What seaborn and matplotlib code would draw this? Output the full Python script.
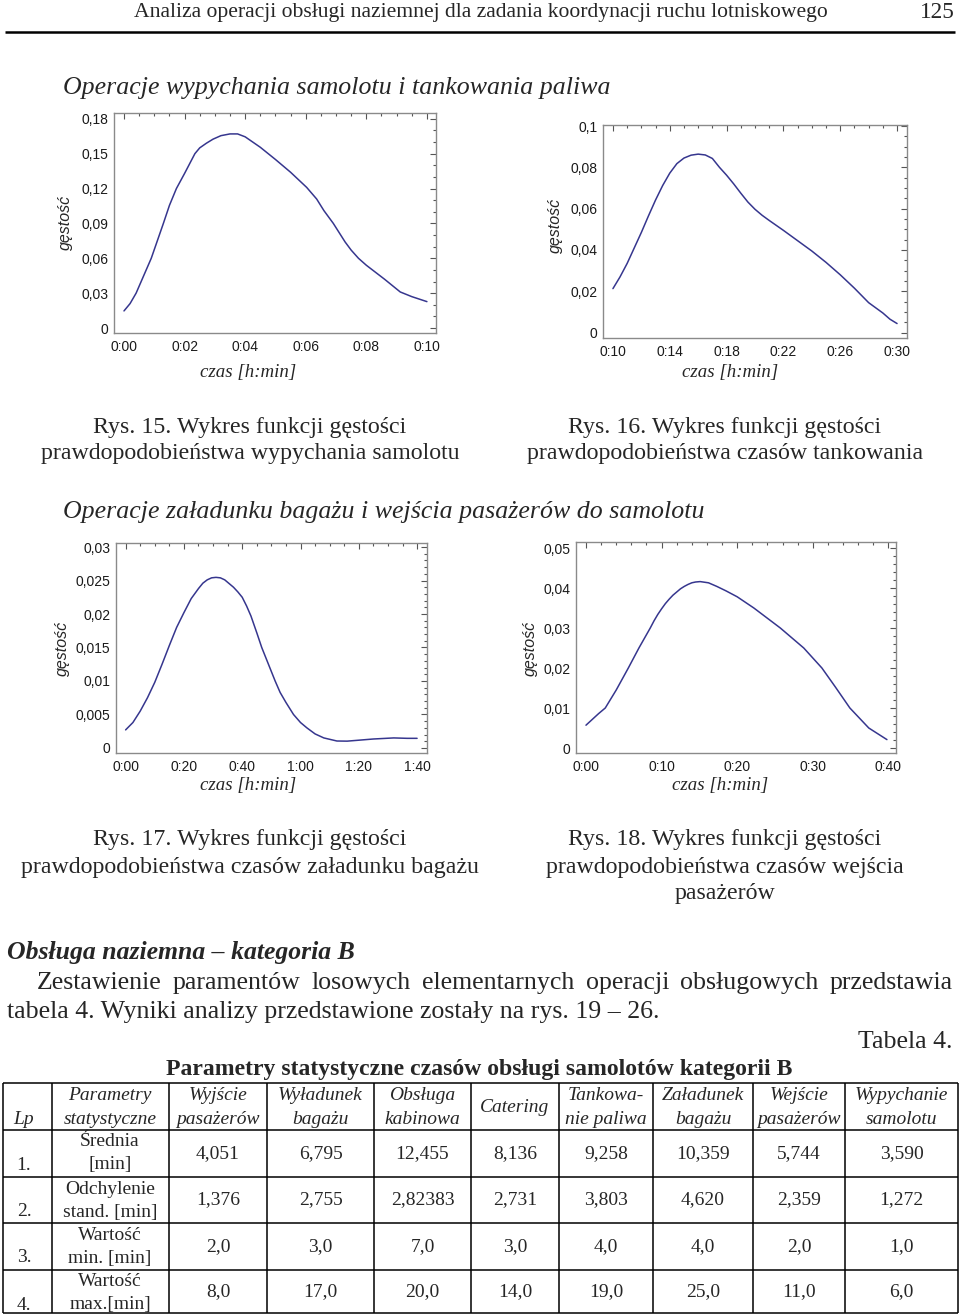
import numpy as np
import pandas as pd
import matplotlib
matplotlib.use("Agg")
import matplotlib.pyplot as plt
from matplotlib.ticker import FixedLocator, MultipleLocator
import seaborn as sns

# Rys. 15 - wypychanie samolotu (czas w minutach, gęstość)
push_t = [0.0, 0.2, 0.4, 0.65, 0.9, 1.1, 1.3, 1.5, 1.73, 2.0, 2.34, 2.5, 2.72, 2.94, 3.2, 3.5,
          3.75, 4.0, 4.25, 4.5, 5.0, 5.5, 6.03, 6.36, 6.6, 6.91, 7.3, 7.5, 7.74, 8.0, 8.2, 8.6,
          9.12, 9.5, 10.0]
push_d = [0.0147, 0.021, 0.030, 0.045, 0.060, 0.075, 0.090, 0.1055, 0.120, 0.133, 0.150, 0.155,
          0.159, 0.1625, 0.1655, 0.167, 0.167, 0.1645, 0.160, 0.1555, 0.145, 0.134, 0.121,
          0.111, 0.101, 0.090, 0.074, 0.067, 0.060, 0.054, 0.050, 0.042, 0.031, 0.027, 0.0227]

# Rys. 16 - tankowanie paliwa
fuel_t = [10, 10.5, 11, 11.5, 12, 12.5, 13, 13.5, 14, 14.5, 15, 15.5, 16, 16.5, 17, 17.5, 18,
          18.5, 19, 19.5, 20, 20.5, 21, 22, 23, 24, 25, 26, 27, 28, 29, 29.5, 30]
fuel_d = [0.0213, 0.027, 0.0335, 0.041, 0.0485, 0.0565, 0.0642, 0.0712, 0.0772, 0.0818,
          0.0845, 0.0859, 0.0864, 0.0860, 0.0843, 0.080, 0.0762, 0.072, 0.0675, 0.0632,
          0.0597, 0.0568, 0.0543, 0.0495, 0.0445, 0.0395, 0.034, 0.028, 0.0215, 0.0145,
          0.0095, 0.0065, 0.0044]

# Rys. 17 - załadunek bagażu
bag_t = [0, 2.5, 5, 7.5, 10, 12.5, 15, 17.5, 20, 22.5, 25, 26.5, 28, 29.5, 31, 32.5, 34, 37,
         38.5, 40, 41.5, 43, 45, 46.7, 49, 51.3, 53, 55, 57.6, 60, 62.2, 65, 68, 72.5, 76, 79.4,
         85, 92, 96.6, 100]
bag_d = [0.0027, 0.0038, 0.0055, 0.0075, 0.0098, 0.0125, 0.0153, 0.018, 0.0202, 0.0223,
         0.0238, 0.0246, 0.0251, 0.0254, 0.02547, 0.0254, 0.0251, 0.0240, 0.0233, 0.0225,
         0.0212, 0.0197, 0.0172, 0.015, 0.0125, 0.010, 0.0083, 0.0068, 0.005, 0.0038, 0.003,
         0.0021, 0.0015, 0.00104, 0.00102, 0.00114, 0.00134, 0.0015, 0.00144, 0.00144]

# Rys. 18 - wejście pasażerów
pax_t = [0, 1.67, 2.55, 4, 5.6, 7, 8.5, 9, 9.5, 10, 10.5, 11, 11.5, 12, 12.5, 13, 13.5, 14,
         14.5, 15.1, 16.2, 17.3, 18.5, 20, 22.2, 25.7, 28.8, 31.2, 33, 34.9, 37.4, 39.8]
pax_d = [0.0057, 0.0086, 0.010, 0.0145, 0.020, 0.025, 0.030, 0.0318, 0.0334, 0.0348, 0.0361,
         0.0372, 0.0382, 0.039, 0.0398, 0.0404, 0.0409, 0.0413, 0.0415, 0.0416, 0.0413, 0.0404,
         0.0393, 0.0378, 0.035, 0.030, 0.025, 0.020, 0.0152, 0.010, 0.005, 0.0021]

# tabela 4
col_heads = ["Wyjście\npasażerów", "Wyładunek\nbagażu", "Obsługa\nkabinowa", "Catering",
             "Tankowa-\nnie paliwa", "Załadunek\nbagażu", "Wejście\npasażerów", "Wypychanie\nsamolotu"]
row_heads = [("Średnia", "[min]"), ("Odchylenie", "stand. [min]"),
             ("Wartość", "min. [min]"), ("Wartość", "max.[min]")]
srednia = ["4,051", "6,795", "12,455", "8,136", "9,258", "10,359", "5,744", "3,590"]
odchylenie = ["1,376", "2,755", "2,82383", "2,731", "3,803", "4,620", "2,359", "1,272"]
wart_min = ["2,0", "3,0", "7,0", "3,0", "4,0", "4,0", "2,0", "1,0"]
wart_max = ["8,0", "17,0", "20,0", "14,0", "19,0", "25,0", "11,0", "6,0"]

LINE = "#36368e"
W, H = 960, 1314

sns.set_style("white")
plt.rcParams["font.family"] = ["Liberation Serif", "DejaVu Serif"]

fig = plt.figure(figsize=(W / 100, H / 100), dpi=100)
page = fig.add_axes([0, 0, 1, 1])
page.set_xlim(0, W)
page.set_ylim(H, 0)
page.axis("off")
renderer = fig.canvas.get_renderer()


def fit(x, y, s, width, size=16, **kw):
    # dopasowanie rozmiaru czcionki do szerokości tekstu na skanie
    t = page.text(x, y, s, fontsize=size, va="center", **kw)
    w = t.get_window_extent(renderer).width
    t.set_fontsize(size * width / w)
    return t.get_fontsize()


def justify(words, x0, x1, y, size, **kw):
    ts = [page.text(0, y, w, fontsize=size, va="center", **kw) for w in words]
    widths = [t.get_window_extent(renderer).width for t in ts]
    gap = (x1 - x0 - sum(widths)) / (len(words) - 1)
    x = x0
    for t, w in zip(ts, widths):
        t.set_x(x)
        x += w + gap


def density_plot(box, t, d, xlim, ylim, xticks, xlabels, yticks, ylabels, xminor, yminor,
                 ylab_x, ylab_y, xlab_x, xlab_y):
    l, tp, r, b = box
    ax = fig.add_axes([l / W, 1 - b / H, (r - l) / W, (b - tp) / H])
    df = pd.DataFrame({"czas": t, "gestosc": d})
    sns.lineplot(data=df, x="czas", y="gestosc", ax=ax, color=LINE, linewidth=1.1)
    ax.set_xlim(*xlim)
    ax.set_ylim(*ylim)
    ax.xaxis.set_major_locator(FixedLocator(xticks))
    ax.set_xticklabels(xlabels)
    ax.yaxis.set_major_locator(FixedLocator(yticks))
    ax.set_yticklabels(ylabels)
    ax.xaxis.set_minor_locator(MultipleLocator(xminor))
    ax.yaxis.set_minor_locator(MultipleLocator(yminor))
    ax.tick_params(which="both", direction="in", top=True, right=True, color="#555555",
                   width=0.8, labelsize=10, labelcolor="#1a1a1a")
    ax.tick_params(which="major", length=4)
    ax.tick_params(which="minor", length=2.5)
    ax.tick_params(axis="y", pad=4)
    ax.tick_params(axis="x", pad=5)
    for lab in ax.get_xticklabels() + ax.get_yticklabels():
        lab.set_fontfamily("Liberation Sans")
    for sp in ax.spines.values():
        sp.set_color("#8a8a8a")
        sp.set_linewidth(1.0)
    ax.set_ylabel("gęstość", fontfamily="Liberation Sans", fontstyle="italic", fontsize=11.5)
    ax.yaxis.set_label_coords(ylab_x, ylab_y, transform=page.transData)
    ax.set_xlabel("czas [h:min]", fontstyle="italic", fontsize=13.6)
    ax.xaxis.set_label_coords(xlab_x, xlab_y, transform=page.transData)
    return ax


# nagłówek strony
fit(481, 13, "Analiza operacji obsługi naziemnej dla zadania koordynacji ruchu lotniskowego",
    693, ha="center")
fit(955, 13, "125", 35, ha="right")
page.hlines(32, 5, 955, color="black", linewidth=1.8)

# sekcja 1
fit(63, 88, "Operacje wypychania samolotu i tankowania paliwa", 547, style="italic")

density_plot((114, 113, 436, 333), push_t, push_d, (-0.33, 10.3), (-0.0043, 0.185),
             [0, 2, 4, 6, 8, 10], ["0:00", "0:02", "0:04", "0:06", "0:08", "0:10"],
             [0, 0.03, 0.06, 0.09, 0.12, 0.15, 0.18],
             ["0", "0,03", "0,06", "0,09", "0,12", "0,15", "0,18"], 0.5, 0.01,
             73, 222, 248, 364)

density_plot((603, 125, 907, 338), fuel_t, fuel_d, (9.3, 30.7), (-0.0026, 0.1005),
             [10, 14, 18, 22, 26, 30], ["0:10", "0:14", "0:18", "0:22", "0:26", "0:30"],
             [0, 0.02, 0.04, 0.06, 0.08, 0.1],
             ["0", "0,02", "0,04", "0,06", "0,08", "0,1"], 1, 0.005,
             563, 225, 730, 364)

cap = fit(250, 427, "Rys. 15. Wykres funkcji gęstości", 313, ha="center")
page.text(250, 453, "prawdopodobieństwa wypychania samolotu", fontsize=cap, ha="center", va="center")
page.text(725, 427, "Rys. 16. Wykres funkcji gęstości", fontsize=cap, ha="center", va="center")
page.text(725, 453, "prawdopodobieństwa czasów tankowania", fontsize=cap, ha="center", va="center")

# sekcja 2
fit(63, 512, "Operacje załadunku bagażu i wejścia pasażerów do samolotu", 640, style="italic")

density_plot((116, 543, 427, 753), bag_t, bag_d, (-3.3, 103.4), (-0.00075, 0.0306),
             [0, 20, 40, 60, 80, 100], ["0:00", "0:20", "0:40", "1:00", "1:20", "1:40"],
             [0, 0.005, 0.01, 0.015, 0.02, 0.025, 0.03],
             ["0", "0,005", "0,01", "0,015", "0,02", "0,025", "0,03"], 5, 0.001,
             70, 648, 248, 777)

density_plot((576, 542, 896, 753), pax_t, pax_d, (-1.32, 41.0), (-0.00125, 0.0515),
             [0, 10, 20, 30, 40], ["0:00", "0:10", "0:20", "0:30", "0:40"],
             [0, 0.01, 0.02, 0.03, 0.04, 0.05],
             ["0", "0,01", "0,02", "0,03", "0,04", "0,05"], 2, 0.002,
             538, 648, 720, 777)

page.text(250, 840, "Rys. 17. Wykres funkcji gęstości", fontsize=cap, ha="center", va="center")
page.text(250, 867, "prawdopodobieństwa czasów załadunku bagażu", fontsize=cap, ha="center", va="center")
page.text(725, 840, "Rys. 18. Wykres funkcji gęstości", fontsize=cap, ha="center", va="center")
page.text(725, 867, "prawdopodobieństwa czasów wejścia", fontsize=cap, ha="center", va="center")
page.text(725, 894, "pasażerów", fontsize=cap, ha="center", va="center")

# tekst
fit(7, 952, "Obsługa naziemna – kategoria B", 348, style="italic", weight="bold")
body = fit(7, 1012, "tabela 4. Wyniki analizy przedstawione zostały na rys. 19 – 26.", 653)
justify("Zestawienie paramentów losowych elementarnych operacji obsługowych przedstawia".split(),
        37, 953, 983, body)
page.text(953, 1042, "Tabela 4.", fontsize=body, ha="right", va="center")
fit(479, 1070, "Parametry statystyczne czasów obsługi samolotów kategorii B", 628,
    ha="center", weight="bold")

# tabela
vx = [3, 52, 169, 267, 374, 471, 559, 653, 753, 845, 958]
hy = [1083, 1130, 1177, 1223, 1270, 1313]
page.vlines(vx, hy[0], hy[-1], color="black", linewidth=1.1)
page.hlines(hy, vx[0], vx[-1], color="black", linewidth=1.1)

probe = page.text(0, 0, "Odchylenie", fontsize=14)
tsize = 14 * 90 / probe.get_window_extent(renderer).width
probe.remove()

page.text(24, 1119, "Lp", fontsize=tsize, style="italic", ha="center", va="center")
page.text(110, 1096, "Parametry", fontsize=tsize, style="italic", ha="center", va="center")
page.text(110, 1119, "statystyczne", fontsize=tsize, style="italic", ha="center", va="center")
centers = [(vx[i] + vx[i + 1]) / 2 for i in range(2, 10)]
for cx, head in zip(centers, col_heads):
    parts = head.split("\n")
    if len(parts) == 1:
        page.text(cx, 1107, parts[0], fontsize=tsize, style="italic", ha="center", va="center")
    else:
        page.text(cx, 1096, parts[0], fontsize=tsize, style="italic", ha="center", va="center")
        page.text(cx, 1119, parts[1], fontsize=tsize, style="italic", ha="center", va="center")

rows = [srednia, odchylenie, wart_min, wart_max]
for i, (vals, (p1, p2)) in enumerate(zip(rows, row_heads)):
    top, bot = hy[i + 1], hy[i + 2]
    page.text(24, top + 35, f"{i + 1}.", fontsize=tsize, ha="center", va="center")
    page.text(110, top + 12, p1, fontsize=tsize, ha="center", va="center")
    page.text(110, top + 35, p2, fontsize=tsize, ha="center", va="center")
    for cx, v in zip(centers, vals):
        page.text(cx, (top + bot) / 2, v, fontsize=tsize, ha="center", va="center")

fig.savefig("out.png", dpi=100)
